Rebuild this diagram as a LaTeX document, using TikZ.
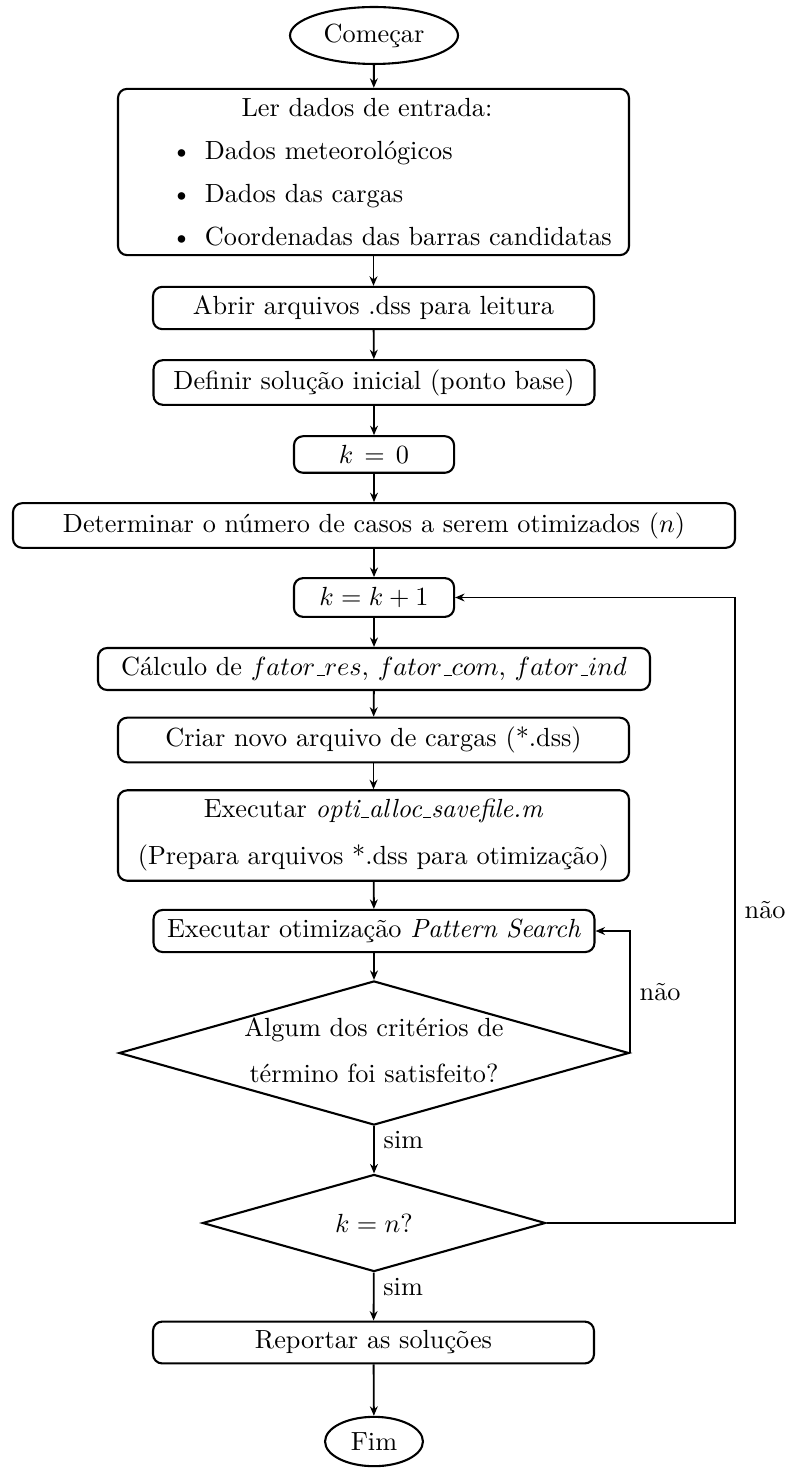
\documentclass[tikz,border=0pt]{standalone}
\usetikzlibrary{shapes.geometric,arrows.meta}
\newcommand{\lowbar}{\mbox{\kern.06em\vbox{\hrule width.3em}}}
\begin{document}
\begin{tikzpicture}[x=0.381pt,y=-0.381pt,
  proc/.style={draw, line width=0.8pt, rounded corners=3.5pt, inner xsep=2pt, inner ysep=3.5pt, align=center},
  term/.style={draw, line width=0.8pt, ellipse, inner sep=0pt},
  decision/.style={draw, line width=0.8pt, diamond, inner sep=0pt, aspect=3.5},
  flow/.style={line width=0.7pt, -{Stealth[length=3.6pt,width=3pt]}},
  lbl/.style={inner sep=3.33pt}
]
\useasboundingbox (0,0) rectangle (792,1468);

\node[term, minimum width=64pt, minimum height=21.7pt] (start) at (374,35.5) {Começar};

\node[draw, line width=0.8pt, rounded corners=3.5pt, inner xsep=0pt, inner ysep=3.5pt,
      text width=194.7pt, align=left] (read) at (373.5,172) {%
\makebox[194.7pt][c]{Ler dados de entrada:\hspace{5pt}}\\[4.4pt]
\hspace*{20.3pt}\textbullet\hspace{5pt}Dados meteorológicos\\[4.4pt]
\hspace*{20.3pt}\textbullet\hspace{5pt}Dados das cargas\\[4.4pt]
\hspace*{20.3pt}\textbullet\hspace{5pt}Coordenadas das barras candidatas};

\node[proc, minimum width=168pt] (open) at (373.5,308) {Abrir arquivos .dss para leitura};
\node[proc, minimum width=168pt] (init) at (374,382.5) {Definir solução inicial (ponto base)};
\node[proc, minimum width=61pt] (k0) at (374,454.5) {$k$\hspace{4.2pt}=\hspace{4.2pt}$0$};
\node[proc, minimum width=275.1pt] (det) at (374,525.5) {Determinar o número de casos a serem otimizados ($n$)};
\node[proc, minimum width=61pt] (k1) at (374,597.5) {$k=k+1$};
\node[proc, minimum width=210.3pt] (calc) at (374,669) {Cálculo de $fator\lowbar res$, $fator\lowbar com$, $fator\lowbar ind$};
\node[proc, minimum width=194.7pt] (new) at (373.5,740) {Criar novo arquivo de cargas (*.dss)};
\node[proc, minimum width=194.7pt] (opti) at (373.5,835.5) {Executar \textit{opti\lowbar alloc\lowbar savefile.m}\\[5.9pt](Prepara arquivos *.dss para otimização)};
\node[proc, minimum width=168pt] (ps) at (374,931) {Executar otimização \textit{Pattern Search}};

\node[decision, minimum width=194.3pt, minimum height=54.9pt] (d1) at (374,1053)
  {\makebox[0pt]{\begin{tabular}{c}Algum dos critérios de\\[5.5pt]término foi satisfeito?\end{tabular}}};
\node[decision, minimum width=130.7pt, minimum height=37pt] (d2) at (374,1223)
  {\makebox[0pt]{$k = n$?}};

\node[proc, minimum width=168pt] (rep) at (373.5,1342.5) {Reportar as soluções};
\node[term, minimum width=37.3pt, minimum height=18.8pt] (fim) at (374,1441.5) {Fim};

\coordinate (corner) at (735,1223);

\draw[flow] (start) -- (read);
\draw[flow] (read) -- (open);
\draw[flow] (open) -- (init);
\draw[flow] (init) -- (k0);
\draw[flow] (k0) -- (det);
\draw[flow] (det) -- (k1);
\draw[flow] (k1) -- (calc);
\draw[flow] (calc) -- (new);
\draw[flow] (new) -- (opti);
\draw[flow] (opti) -- (ps);
\draw[flow] (ps) -- (d1);
\draw[flow] (d1) -- node[lbl, right, pos=0.3] (sim1) {sim} (d2);
\draw[flow] (d2) -- node[lbl, right, pos=0.3] (sim2) {sim} (rep);
\draw[flow] (rep) -- (fim);
\draw[flow] (d1.east) |- node[lbl, right, pos=0.25] (nao1) {não} (ps.east);
\draw[flow] (d2.east) -- (corner) |- node[lbl, right, pos=0.25] (nao2) {não} (k1.east);
\end{tikzpicture}
\end{document}
